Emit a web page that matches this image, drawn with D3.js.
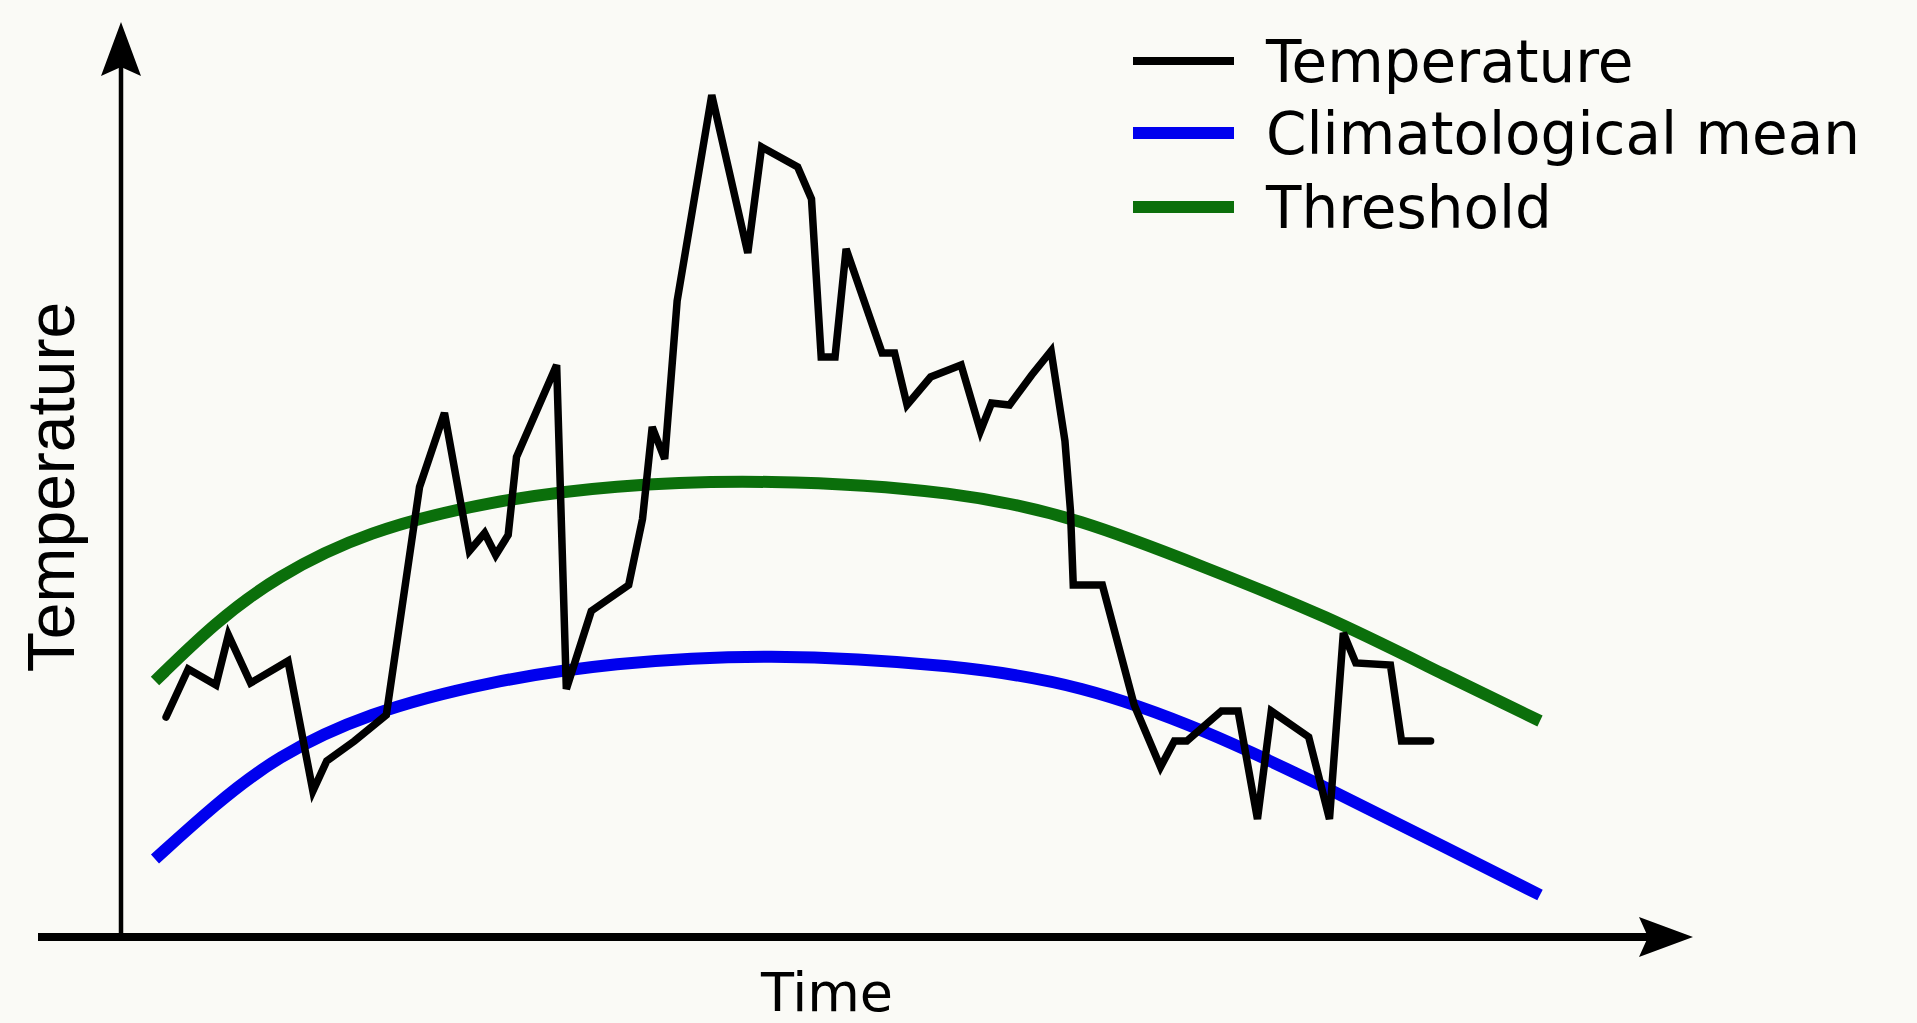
<!DOCTYPE html>
<html>
<head>
<meta charset="utf-8">
<script src="https://cdn.jsdelivr.net/npm/d3@7"></script>
<style>
  html, body { margin: 0; padding: 0; background: #fafaf6; }
  svg { display: block; }
</style>
</head>
<body>
<svg id="chart" width="1917" height="1023"></svg>
<script>
// ---------------- DATA ----------------
const seriesNames = ["Temperature", "Climatological mean", "Threshold"];
const seriesColors = ["#000000", "#0000ee", "#0b6f0b"];
const axisTitles = ["Time", "Temperature"];

// Temperature (black) – time index / value
const tempTime = [0.8, 2.4, 4.4, 5.3, 6.9, 9.6, 11.4, 12.4, 14.4, 16.7,
  19.1, 20.9, 22.7, 23.8, 24.6, 25.5, 26.1, 29.0, 29.7, 31.5,
  34.2, 35.2, 35.9, 36.8, 37.7, 40.2, 42.8, 43.8, 46.4, 47.4,
  48.1, 49.1, 49.9, 52.5, 53.4, 54.3, 56.0, 58.2, 59.6, 60.4,
  61.7, 63.3, 64.7, 65.7, 66.1, 66.3, 68.4, 70.7, 72.6, 73.6,
  74.5, 77.0, 78.2, 79.6, 80.6, 83.3, 84.8, 85.8, 86.7, 89.2,
  90.0, 92.1];
const tempValues = [11.0, 13.4, 12.6, 15.1, 12.7, 13.8, 7.3, 8.8, 9.8, 11.1,
  22.5, 26.2, 19.3, 20.2, 19.1, 20.1, 24.0, 28.6, 12.4, 16.3,
  17.6, 20.9, 25.5, 23.9, 31.8, 42.1, 34.2, 39.5, 38.5, 36.9,
  29.0, 29.0, 34.4, 29.2, 29.2, 26.6, 28.0, 28.6, 25.3, 26.7,
  26.6, 28.1, 29.3, 24.8, 21.3, 17.6, 17.6, 11.6, 8.5, 9.8,
  9.8, 11.3, 11.3, 5.9, 11.3, 10.0, 5.9, 15.2, 13.7, 13.6,
  9.8, 9.8];

// Climatological mean (blue)
const meanTime = [0, 4.3, 8.7, 15.3, 24.2, 33.0, 44.0, 58.1, 66.9, 75.7, 84.5, 93.4, 100];
const meanValues = [3.9, 6.6, 9.0, 11.2, 12.8, 13.7, 14.2, 13.6, 12.6, 10.4, 7.5, 4.4, 2.1];

// Threshold (green)
const threshTime = [0, 4.3, 8.7, 15.3, 24.2, 33.0, 44.0, 58.1, 66.9, 75.7, 84.5, 93.4, 100];
const threshValues = [12.8, 15.7, 18.0, 20.3, 21.8, 22.6, 22.9, 22.3, 20.9, 18.5, 16.1, 13.0, 10.8];

// ---------------- LAYOUT ----------------
const svg = d3.select("#chart");
const W = 1917, H = 1023;
const axisY = 937, axisX = 121;

svg.append("rect").attr("width", W).attr("height", H).attr("fill", "#fafaf6");

const x = d3.scaleLinear().domain([0, 100]).range([155, 1540]);
const y = d3.scaleLinear().domain([0, 45]).range([axisY, 37]);

// arrow markers
const defs = svg.append("defs");
defs.append("marker")
  .attr("id", "arrow")
  .attr("viewBox", "0 -20 54 40")
  .attr("refX", 9).attr("refY", 0)
  .attr("markerUnits", "userSpaceOnUse")
  .attr("markerWidth", 54).attr("markerHeight", 40)
  .attr("orient", "auto")
  .append("path")
  .attr("d", "M0,-20 L54,0 L0,20 L9,0 Z")
  .attr("fill", "#000");

// x axis (no ticks), drawn with d3.axis
const xAxisScale = d3.scaleLinear().domain([0, 1]).range([38, 1640]);
const gx = svg.append("g")
  .attr("transform", `translate(0,${axisY})`)
  .call(d3.axisBottom(xAxisScale).tickValues([]).tickSizeOuter(0));
gx.select(".domain")
  .attr("stroke", "#000").attr("stroke-width", 8)
  .attr("d", `M38,0H1648`)
  .attr("marker-end", "url(#arrow)");

// y axis (no ticks)
const yAxisScale = d3.scaleLinear().domain([0, 1]).range([axisY, 70]);
const gy = svg.append("g")
  .attr("transform", `translate(${axisX},0)`)
  .call(d3.axisLeft(yAxisScale).tickValues([]).tickSizeOuter(0));
gy.select(".domain")
  .attr("stroke", "#000").attr("stroke-width", 4.5)
  .attr("d", `M0,${axisY + 4}V67`)
  .attr("marker-end", "url(#arrow)");

// axis titles
svg.append("text")
  .attr("x", 827).attr("y", 1011)
  .attr("text-anchor", "middle")
  .attr("font-family", "DejaVu Sans")
  .attr("font-size", 54)
  .attr("fill", "#000")
  .text(axisTitles[0]);

svg.append("text")
  .attr("transform", "translate(74,487) rotate(-90)")
  .attr("text-anchor", "middle")
  .attr("font-family", "Liberation Sans, Arial, sans-serif")
  .attr("font-size", 66)
  .attr("fill", "#000")
  .text(axisTitles[1]);

// lines
const smooth = d3.line().x(d => x(d[0])).y(d => y(d[1])).curve(d3.curveBasis);
const straight = d3.line().x(d => x(d[0])).y(d => y(d[1]));

svg.append("path")
  .datum(d3.zip(threshTime, threshValues))
  .attr("d", smooth)
  .attr("fill", "none")
  .attr("stroke", seriesColors[2])
  .attr("stroke-width", 12);

svg.append("path")
  .datum(d3.zip(meanTime, meanValues))
  .attr("d", smooth)
  .attr("fill", "none")
  .attr("stroke", seriesColors[1])
  .attr("stroke-width", 12);

svg.append("path")
  .datum(d3.zip(tempTime, tempValues))
  .attr("d", straight)
  .attr("fill", "none")
  .attr("stroke", seriesColors[0])
  .attr("stroke-width", 7.5)
  .attr("stroke-linejoin", "miter")
  .attr("stroke-miterlimit", 4)
  .attr("stroke-linecap", "round");

// legend
const legendY = [61, 133, 207];
const legendW = [8, 12, 12];
const lg = svg.append("g");
seriesNames.forEach((name, i) => {
  lg.append("line")
    .attr("x1", 1133).attr("x2", 1234)
    .attr("y1", legendY[i]).attr("y2", legendY[i])
    .attr("stroke", seriesColors[i])
    .attr("stroke-width", legendW[i]);
  lg.append("text")
    .attr("x", 1266).attr("y", legendY[i] + 21)
    .attr("font-family", "DejaVu Sans")
    .attr("font-size", 58)
    .attr("fill", "#000")
    .text(name);
});
</script>
</body>
</html>
